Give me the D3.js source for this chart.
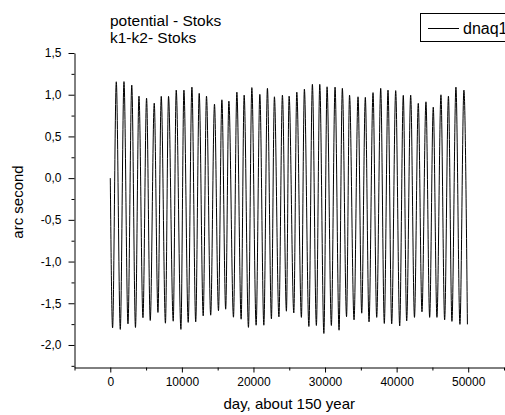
<!DOCTYPE html>
<html>
<head>
<meta charset="utf-8">
<script src="https://cdn.jsdelivr.net/npm/d3@7"></script>
<style>
  body { margin: 0; background: #fff; }
  svg { display: block; }
  text { font-family: Arial, "Liberation Sans", sans-serif; fill: #000; }
</style>
</head>
<body>
<svg id="chart" width="505" height="415"></svg>
<script>
// Extremes of the oscillation: each trough is followed by a peak.
const troughDays = [321, 1396, 2470, 3517, 4563, 5582, 6657, 7703, 8792, 9866,
  10885, 11932, 12978, 14025, 15113, 16118, 17207, 18281, 19300, 20374,
  21449, 22509, 23556, 24603, 25636, 26697, 27743, 28789, 29836, 30883,
  31957, 33004, 34050, 35125, 36144, 37218, 38279, 39312, 40428, 41405,
  42493, 43540, 44614, 45633, 46707, 47726, 48843, 49890];
const troughValues = [-1.795, -1.813, -1.747, -1.790, -1.673, -1.706, -1.610, -1.739, -1.715, -1.813,
  -1.729, -1.723, -1.651, -1.643, -1.589, -1.571, -1.667, -1.691, -1.789, -1.763,
  -1.763, -1.687, -1.663, -1.595, -1.616, -1.669, -1.778, -1.766, -1.862, -1.766,
  -1.823, -1.661, -1.699, -1.619, -1.723, -1.669, -1.742, -1.747, -1.772, -1.712,
  -1.669, -1.603, -1.669, -1.669, -1.699, -1.717, -1.753, -1.753];
const peakDays = [837, 1912, 3000, 4005, 5066, 6140, 7117, 8136, 9210, 10285,
  11401, 12420, 13439, 14555, 15588, 16565, 17681, 18700, 19774, 20891,
  21951, 22928, 24045, 24980, 26054, 27115, 28231, 29264, 30283, 31399,
  32418, 33423, 34608, 35627, 36702, 37776, 38795, 39870, 40930, 41963,
  43024, 44098, 45117, 46191, 47238, 48284, 49401];
const peakValues = [1.155, 1.157, 1.115, 0.983, 0.959, 0.899, 0.980, 0.980, 1.055, 1.055,
  1.091, 1.016, 0.983, 0.887, 0.939, 0.923, 1.031, 0.995, 1.085, 1.004,
  1.076, 0.975, 0.995, 0.983, 1.031, 1.067, 1.124, 1.124, 1.095, 1.091,
  1.076, 0.995, 0.975, 0.968, 1.025, 1.076, 1.055, 1.049, 0.992, 0.995,
  0.896, 0.915, 0.851, 0.999, 0.983, 1.091, 1.055];
const startDay = 0;
const startValue = 0;

const xTickValues = [0, 10000, 20000, 30000, 40000, 50000];
const xMinorTickValues = [-5000, 5000, 15000, 25000, 35000, 45000, 55000];
const yTickValues = [-2.0, -1.5, -1.0, -0.5, 0.0, 0.5, 1.0, 1.5];
const yMinorTickValues = [-2.25, -1.75, -1.25, -0.75, -0.25, 0.25, 0.75, 1.25];

const seriesName = "dnaq1";
const titleLines = ["potential - Stoks", "k1-k2- Stoks"];
const xTitle = "day, about 150 year";
const yTitle = "arc second";

// Assemble the series in time order.
const series = [{ day: startDay, value: startValue }];
troughDays.forEach((d, i) => {
  series.push({ day: d, value: troughValues[i] });
  if (i < peakDays.length) series.push({ day: peakDays[i], value: peakValues[i] });
});

const svg = d3.select("#chart");

const x = d3.scaleLinear().domain([-5000, 55000]).range([74.5, 504]);
const y = d3.scaleLinear().domain([-2.27, 1.5]).range([367.5, 53]);

const axisY0 = 367.5;
const axisX0 = 74.5;

// Bottom axis: minor ticks, then labelled major ticks.
svg.append("g")
  .attr("transform", `translate(0,${axisY0})`)
  .call(d3.axisBottom(x).tickValues(xMinorTickValues).tickSize(3).tickSizeOuter(0).tickFormat(""))
  .call(g => g.select(".domain").remove());
const gx = svg.append("g")
  .attr("transform", `translate(0,${axisY0})`)
  .call(d3.axisBottom(x).tickValues(xTickValues).tickSize(5).tickSizeOuter(0).tickPadding(5)
    .tickFormat(d3.format("d")));
gx.selectAll("text").style("font-size", "12px").attr("font-family", null);

// Left axis.
svg.append("g")
  .attr("transform", `translate(${axisX0},0)`)
  .call(d3.axisLeft(y).tickValues(yMinorTickValues).tickSize(3).tickSizeOuter(0).tickFormat(""))
  .call(g => g.select(".domain").remove());
const gy = svg.append("g")
  .attr("transform", `translate(${axisX0},0)`)
  .call(d3.axisLeft(y).tickValues(yTickValues).tickSize(6).tickSizeOuter(0).tickPadding(7)
    .tickFormat(d => d.toFixed(1).replace(".", ",")));
gy.selectAll("text").style("font-size", "12px").attr("font-family", null);

svg.selectAll(".domain").attr("stroke", "#000");
svg.selectAll(".tick line").attr("stroke", "#000");

// Data line.
const line = d3.line()
  .x(d => x(d.day))
  .y(d => y(d.value))
  .curve(d3.curveMonotoneX);
svg.append("path")
  .datum(series)
  .attr("fill", "none")
  .attr("stroke", "#000")
  .attr("stroke-width", 1)
  .attr("d", line);

// Titles.
titleLines.forEach((t, i) => {
  svg.append("text")
    .attr("x", 110)
    .attr("y", 26 + i * 17)
    .style("font-size", "15.5px")
    .text(t);
});

svg.append("text")
  .attr("x", (axisX0 + 504) / 2)
  .attr("y", 409)
  .attr("text-anchor", "middle")
  .style("font-size", "15px")
  .text(xTitle);

svg.append("text")
  .attr("transform", "translate(23,202) rotate(-90)")
  .attr("text-anchor", "middle")
  .style("font-size", "15px")
  .text(yTitle);

// Legend.
const legend = svg.append("g");
legend.append("rect")
  .attr("x", 420.5).attr("y", 13.5)
  .attr("width", 120).attr("height", 28)
  .attr("fill", "#fff").attr("stroke", "#000").attr("stroke-width", 1);
legend.append("line")
  .attr("x1", 428).attr("x2", 459)
  .attr("y1", 28.5).attr("y2", 28.5)
  .attr("stroke", "#000").attr("stroke-width", 1);
legend.append("text")
  .attr("x", 463).attr("y", 33.5)
  .style("font-size", "16px")
  .text(seriesName);
</script>
</body>
</html>
